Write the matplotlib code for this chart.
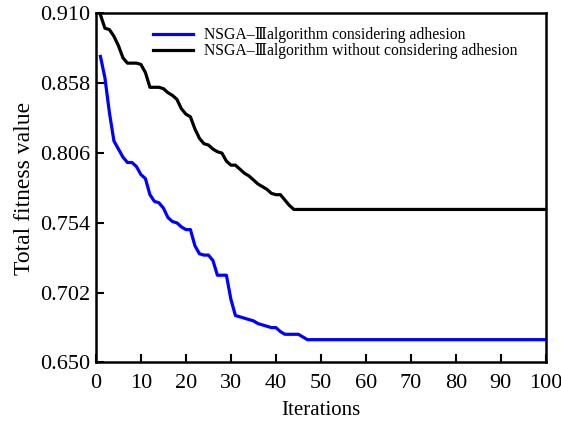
import numpy as np
import matplotlib.pyplot as plt

plt.rcParams['font.family'] = ['Liberation Serif', 'DejaVu Serif', 'Noto Sans CJK SC']

iterations = np.arange(1, 101)

# best total fitness per iteration, NSGA-III with adhesion constraint
fit_adhesion = [
    0.878, 0.862, 0.836, 0.815, 0.809, 0.803, 0.799, 0.799, 0.796, 0.790,
    0.787, 0.775, 0.770, 0.769, 0.765, 0.758, 0.755, 0.754, 0.751, 0.749,
    0.749, 0.737, 0.731, 0.730, 0.730, 0.726, 0.715, 0.715, 0.715, 0.697,
    0.685, 0.684, 0.683, 0.682, 0.681, 0.679, 0.678, 0.677, 0.676, 0.676,
    0.673, 0.671, 0.671, 0.671, 0.671, 0.669,
] + [0.667] * 54

# best total fitness per iteration, NSGA-III without adhesion
fit_no_adhesion = [
    0.909, 0.899, 0.898, 0.893, 0.886, 0.877, 0.873, 0.873, 0.873, 0.872,
    0.866, 0.855, 0.855, 0.855, 0.854, 0.851, 0.849, 0.846, 0.839, 0.835,
    0.833, 0.824, 0.817, 0.813, 0.812, 0.809, 0.807, 0.806, 0.800, 0.797,
    0.797, 0.794, 0.791, 0.789, 0.786, 0.783, 0.781, 0.779, 0.776, 0.775,
    0.775, 0.771, 0.767,
] + [0.764] * 57

series_labels = ['NSGA\u2013\u2162algorithm considering adhesion',
                 'NSGA\u2013\u2162algorithm without considering adhesion']
x_ticks = np.arange(0, 101, 10)
y_ticks = [0.650, 0.702, 0.754, 0.806, 0.858, 0.910]

fig = plt.figure(figsize=(5.61, 4.21), dpi=100)
ax = fig.add_axes([0.171, 0.139, 0.802, 0.829])

ax.plot(iterations, fit_adhesion, color='#0000ff', lw=2.3, label=series_labels[0])
ax.plot(iterations, fit_no_adhesion, color='black', lw=2.3, label=series_labels[1])

ax.set_xlim(0, 100)
ax.set_ylim(0.650, 0.910)
ax.set_xticks(x_ticks)
ax.set_yticks(y_ticks)
ax.set_yticklabels(['%.3f' % v for v in y_ticks])
ax.tick_params(direction='in', length=6, width=1.5, labelsize=16)
ax.tick_params(axis='x', pad=8)
ax.tick_params(axis='y', pad=4)
for sp in ax.spines.values():
    sp.set_linewidth(1.8)

ax.set_xlabel('Iterations', fontsize=15, labelpad=6)
ax.set_ylabel('Total fitness value', fontsize=17, labelpad=4)

ax.legend(loc='upper left', bbox_to_anchor=(0.113, 0.979), frameon=False,
          fontsize=11.3, handlelength=2.55, handletextpad=0.7,
          labelspacing=0.0, borderaxespad=0.0)

fig.savefig('out.png', dpi=100)
